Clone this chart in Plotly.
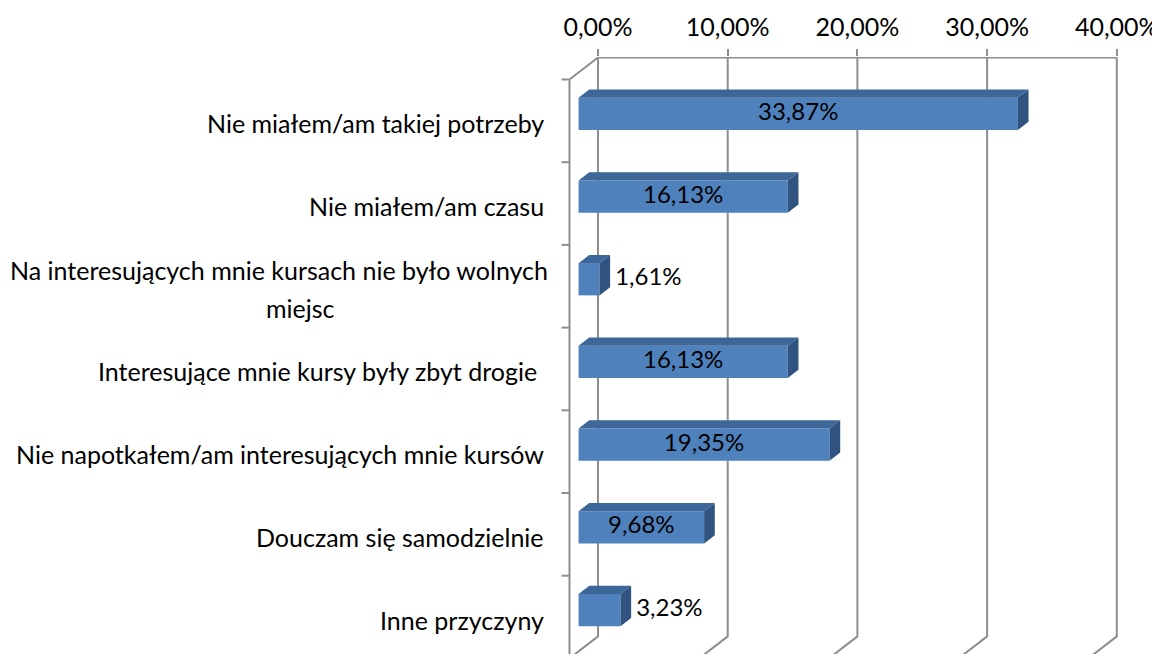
import plotly.graph_objects as go

# ---- data ----
categories = [
    "Nie miałem/am takiej potrzeby",
    "Nie miałem/am czasu",
    "Na interesujących mnie kursach nie było wolnych<br>miejsc",
    "Interesujące mnie kursy były zbyt drogie\u00a0",
    "Nie napotkałem/am interesujących mnie kursów",
    "Douczam się samodzielnie",
    "Inne przyczyny",
]
values = [33.87, 16.13, 1.61, 16.13, 19.35, 9.68, 3.23]
tick_values = [0, 10, 20, 30, 40]

# ---- geometry (pixels of the page -> data units) ----
OFF = 8                       # default body margin of the html page
W, H = 1160, 654              # page size
ML, MT = 540, 57              # plot area top-left on the page
PX_PER_PCT = 12.97
FRONT0_PX = 569.5
ROW_PX = 82.7
ROW0_PX = 120.85
DEPTH_DX_PX, DEPTH_DY_PX = 28.5, 22.0

x_range = [(ML - FRONT0_PX) / PX_PER_PCT, (W - FRONT0_PX) / PX_PER_PCT]
y_range = [(H - ROW0_PX) / ROW_PX, (MT - ROW0_PX) / ROW_PX]
back0_px = FRONT0_PX + DEPTH_DX_PX
x2_range = [(ML - back0_px) / PX_PER_PCT / 100, (W - back0_px) / PX_PER_PCT / 100]

DX = DEPTH_DX_PX / PX_PER_PCT
DY = DEPTH_DY_PX / ROW_PX
D1 = 0.318   # bar front depth fraction
DD = 0.375   # bar depth fraction
BAR_H = 0.39

FONT = "Lato"
FS_CAT = 25
FS_VAL = 24
GRID = "#8E8E8E"
FRONT_C = "#4F81BD"
TOP_C = "#3D6699"
SIDE_C = "#30537F"

n = len(categories)
idx = list(range(n))
yc = [i - D1 * DY for i in idx]
bx0 = D1 * DX

fig = go.Figure()

# front faces
fig.add_trace(go.Bar(
    y=yc, x=values, base=bx0, orientation="h", width=BAR_H,
    marker=dict(color=FRONT_C, line=dict(width=0)),
    hoverinfo="skip", showlegend=False,
))

# top and side faces
tx, ty, sx, sy = [], [], [], []
for v, c in zip(values, yc):
    top = c - BAR_H / 2
    bot = c + BAR_H / 2
    x1 = bx0 + v
    ox, oy = DD * DX, DD * DY
    tx += [bx0, x1, x1 + ox, bx0 + ox, bx0, None]
    ty += [top, top, top - oy, top - oy, top, None]
    sx += [x1, x1 + ox, x1 + ox, x1, x1, None]
    sy += [top, top - oy, bot - oy, bot, top, None]
fig.add_trace(go.Scatter(x=tx, y=ty, mode="lines", fill="toself", fillcolor=TOP_C,
                         line=dict(width=0), hoverinfo="skip", showlegend=False))
fig.add_trace(go.Scatter(x=sx, y=sy, mode="lines", fill="toself", fillcolor=SIDE_C,
                         line=dict(width=0), hoverinfo="skip", showlegend=False))

# value labels
lab_x, lab_pos = [], []
gap = 5 / PX_PER_PCT
for v in values:
    if v > 8:
        lab_x.append(bx0 + v / 2)
        lab_pos.append("middle center")
    else:
        lab_x.append(bx0 + v + DD * DX + gap)
        lab_pos.append("middle right")
fig.add_trace(go.Scatter(
    x=lab_x, y=yc, mode="text",
    text=[f"{v:.2f}%".replace(".", ",") for v in values],
    textposition=lab_pos, textfont=dict(family=FONT, size=FS_VAL, color="black"),
    hoverinfo="skip", showlegend=False,
))

# dummy trace for the top (back wall) axis
fig.add_trace(go.Scatter(x=[], y=[], xaxis="x2", yaxis="y", showlegend=False))

# walls / gridlines
shapes = []
line = dict(color=GRID, width=2)
ytop, ybot = -0.5, n - 0.5
for t in tick_values:
    shapes.append(dict(type="path", xref="x", yref="y", layer="below", line=line,
                       path=f"M {t + DX},{ytop - DY} L {t + DX},{ybot - DY} L {t},{ybot}"))
shapes.append(dict(type="line", xref="x", yref="y", layer="below", line=line,
                   x0=DX, y0=ytop - DY, x1=tick_values[-1] + DX, y1=ytop - DY))
shapes.append(dict(type="line", xref="x", yref="y", layer="below", line=line,
                   x0=0, y0=ytop, x1=DX, y1=ytop - DY))
shapes.append(dict(type="line", xref="x", yref="y", layer="below", line=line,
                   x0=0, y0=ytop, x1=0, y1=ybot + 1))
for b in range(n + 1):
    yb = b - 0.5
    shapes.append(dict(type="line", xref="x", yref="y", layer="below", line=line,
                       x0=-8 / PX_PER_PCT, y0=yb, x1=0, y1=yb))

# category labels (x in paper units, since they lie left of the plot area)
def paper_x(px):
    return (px - ML) / (W - ML)

LABEL_RIGHT = paper_x(546)
LONG_LINE_RIGHT = paper_x(550)
SECOND_LINE_CENTER = paper_x(300)
LINE_HALF = 19 / ROW_PX
annotations = []
for i, c in enumerate(categories):
    lines = c.split("<br>")
    if len(lines) == 1:
        annotations.append(dict(
            x=LABEL_RIGHT, y=i + 0.03, xref="paper", yref="y", text=c,
            showarrow=False, xanchor="right", yanchor="middle",
            font=dict(family=FONT, size=FS_CAT, color="black"),
        ))
    else:
        annotations.append(dict(
            x=LONG_LINE_RIGHT, y=i - LINE_HALF + 0.03, xref="paper", yref="y",
            text=lines[0], showarrow=False, xanchor="right", yanchor="middle",
            font=dict(family=FONT, size=FS_CAT, color="black"),
        ))
        annotations.append(dict(
            x=SECOND_LINE_CENTER, y=i + LINE_HALF + 0.03, xref="paper", yref="y",
            text=lines[1], showarrow=False, xanchor="center", yanchor="middle",
            font=dict(family=FONT, size=FS_CAT, color="black"),
        ))

fig.update_layout(
    width=W - OFF, height=H - OFF,
    margin=dict(l=ML - OFF, r=0, t=MT - OFF, b=0, pad=0),
    paper_bgcolor="white", plot_bgcolor="white",
    separators=", ",
    shapes=shapes, annotations=annotations,
    xaxis=dict(range=x_range, showgrid=False, zeroline=False, showline=False,
               showticklabels=False, ticks="", fixedrange=True),
    xaxis2=dict(range=x2_range, overlaying="x", side="top", anchor="y",
                tickvals=[t / 100 for t in tick_values], tickformat=".2%",
                ticks="outside", ticklen=7, tickwidth=2, tickcolor=GRID,
                ticklabelstandoff=3,
                showgrid=False, zeroline=False, showline=False,
                tickfont=dict(family=FONT, size=FS_CAT, color="black")),
    yaxis=dict(range=y_range, showgrid=False, zeroline=False, showline=False,
               showticklabels=False, ticks=""),
    showlegend=False,
)

fig.write_html("out.html")
